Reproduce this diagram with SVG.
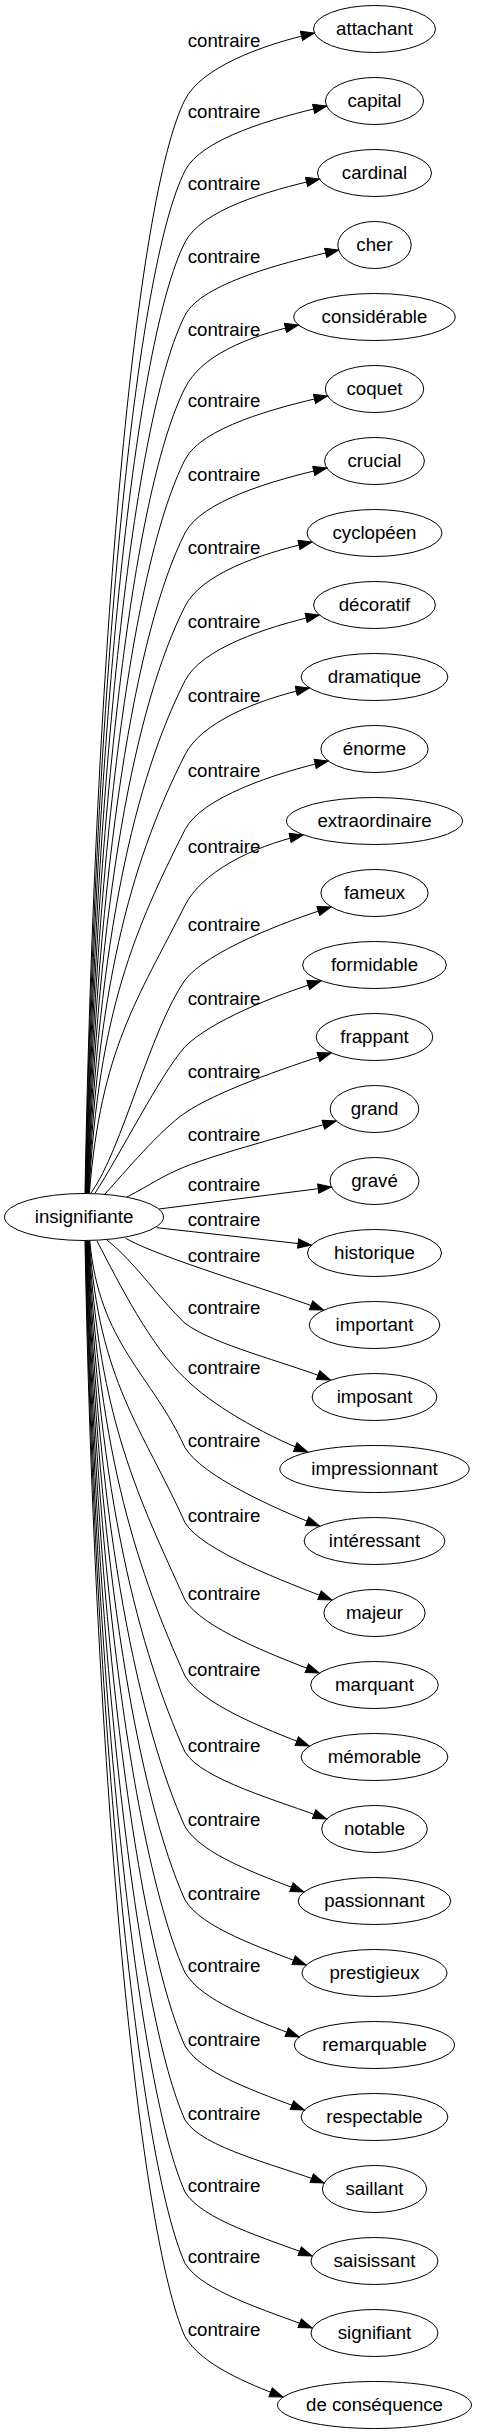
<svg xmlns="http://www.w3.org/2000/svg" width="477" height="2435" viewBox="0 0 477 2435">
<defs>
<style>
.n ellipse{fill:none;stroke:#000;stroke-width:1}
.n text,.lb{font-family:"Liberation Sans",Arial,sans-serif;font-size:18.67px;fill:#000;text-anchor:middle}
.e path{fill:none;stroke:#000;stroke-width:1;marker-end:url(#ah)}
</style>
<marker id="ah" markerUnits="userSpaceOnUse" markerWidth="16" markerHeight="12" refX="14" refY="5.5" orient="auto" viewBox="0 0 16 12"><path d="M0.7,0.8 L14,5.5 L0.7,10.2 z" fill="#000" stroke="#000" stroke-width="1"/></marker>
</defs>
<rect width="477" height="2435" fill="#fff"/>
<g id="connectors" class="e">
<path d="M85,1193 C95,646.4 135.5,197.6 185,99.7 C201.2,67.7 261,45.1 314.4,33"/>
<path d="M85.4,1193 C95.4,681.9 135.5,268.6 185,170.7 C201.2,138.7 273.2,118.1 326.6,106"/>
<path d="M85.8,1193 C95.7,717.7 135.5,340.2 185,242.3 C201.2,210.3 266.1,191.1 319.5,179"/>
<path d="M86.2,1193 C96.1,754.2 135.5,413.2 185,315.3 C201.2,283.3 285.2,262.1 338.6,250"/>
<path d="M86.6,1193 C96.4,790.5 135.5,485.9 185,388 C201.2,356 245,337.1 298.4,325"/>
<path d="M87,1193 C96.8,826.4 135.5,557.6 185,459.7 C201.2,427.7 274,408.1 327.4,396"/>
<path d="M87.4,1193 C97.2,863 135.5,630.9 185,533 C201.2,501 273.3,480.1 326.7,468"/>
<path d="M87.8,1193 C97.5,899.7 135.5,704.2 185,606.3 C201.2,574.3 258.5,554.1 311.9,542"/>
<path d="M88.2,1193 C97.9,936.9 135.5,778.6 185,680.7 C201.2,648.7 265.7,627.1 319.1,615"/>
<path d="M88.6,1193 C98.2,973.9 135.5,852.6 185,754.7 C201.2,722.7 255.8,700.1 309.2,688"/>
<path d="M89,1193 C98.6,1011.4 135.5,927.6 185,829.7 C201.2,797.7 274.7,773.1 328.1,761"/>
<path d="M89.4,1193 C101,1049.2 137.3,999.6 185,905.3 C201.2,873.3 249.6,847.1 303,835"/>
<path d="M91,1193 C122,1150 150,1030 185,980 C207,951.6 283.5,922 331,907"/>
<path d="M95,1193.2 C120,1155 160,1075 185,1046.7 C210.5,1021.2 273.4,996 320.9,981"/>
<path d="M105,1194 C125,1172 160,1130 185,1113 C214.5,1092.5 283.6,1068 331.1,1053"/>
<path d="M127,1197 C150,1185 163.6,1175.2 185,1166.7 C218.5,1153.4 288.1,1135 336.1,1121"/>
<path d="M159,1209 C216,1201.7 274,1194.3 331.4,1187"/>
<path d="M156.7,1227.7 C208,1233.5 260,1239.2 311.3,1245"/>
<path d="M125.7,1238.3 C160,1258 270,1290 323.5,1310"/>
<path d="M107,1240 C135,1262 160,1300 185,1323.3 C213.8,1344.9 283.9,1361.5 330.4,1380"/>
<path d="M97,1241 C120,1285 150,1345 185,1378.3 C210.2,1403.9 261.1,1433.5 307.6,1452"/>
<path d="M89.8,1241 C99.3,1344.4 152.2,1374.9 185,1447.7 C202,1475.7 273,1508 319.5,1526"/>
<path d="M89.4,1241 C99,1381.9 142.4,1428.1 185,1522.7 C202,1550.7 285.4,1582 331.9,1600"/>
<path d="M89,1241 C98.6,1420.5 140,1500 185,1600 C202,1628 272.7,1655 319.2,1673"/>
<path d="M88.6,1241 C98.2,1458.5 140,1576 185,1676 C202,1704 262.7,1728 309.2,1746"/>
<path d="M88.2,1241 C97.9,1496.5 140,1652 185,1752 C202,1780 280,1801 326.5,1819"/>
<path d="M87.8,1241 C97.5,1533.9 140,1726.7 185,1826.7 C202,1854.7 257.3,1874 303.8,1892"/>
<path d="M87.4,1241 C97.2,1570.5 140,1800 185,1900 C202,1928 259.5,1947 306,1965"/>
<path d="M87,1241 C96.8,1606.9 140,1872.7 185,1972.7 C202,2000.7 252.6,2019 299.1,2037"/>
<path d="M86.6,1241 C96.4,1643.5 140,1946 185,2046 C202,2074 257.8,2092 304.3,2110"/>
<path d="M86.2,1241 C96.1,1680.5 140,2020 185,2120 C202,2148 277.6,2165 324.1,2183"/>
<path d="M85.8,1241 C95.7,1716.5 140,2092 185,2192 C202,2220 265.6,2238 312.1,2256"/>
<path d="M85.4,1241 C95.4,1752.2 140,2163.3 185,2263.3 C202,2291.3 265.6,2310 312.1,2328"/>
<path d="M85,1241 C95,1788.9 140,2236.7 185,2336.7 C202,2364.7 246,2383 283,2397"/>
</g>
<g id="labels">
<text class="lb" x="224" y="47.2">contraire</text>
<text class="lb" x="224" y="118.2">contraire</text>
<text class="lb" x="224" y="189.8">contraire</text>
<text class="lb" x="224" y="262.8">contraire</text>
<text class="lb" x="224" y="335.5">contraire</text>
<text class="lb" x="224" y="407.2">contraire</text>
<text class="lb" x="224" y="480.5">contraire</text>
<text class="lb" x="224" y="553.8">contraire</text>
<text class="lb" x="224" y="628.2">contraire</text>
<text class="lb" x="224" y="702.2">contraire</text>
<text class="lb" x="224" y="777.2">contraire</text>
<text class="lb" x="224" y="852.8">contraire</text>
<text class="lb" x="224" y="930.5">contraire</text>
<text class="lb" x="224" y="1004.8">contraire</text>
<text class="lb" x="224" y="1078.2">contraire</text>
<text class="lb" x="224" y="1140.8">contraire</text>
<text class="lb" x="224" y="1191.2">contraire</text>
<text class="lb" x="224" y="1226.2">contraire</text>
<text class="lb" x="224" y="1261.5">contraire</text>
<text class="lb" x="224" y="1313.8">contraire</text>
<text class="lb" x="224" y="1373.8">contraire</text>
<text class="lb" x="224" y="1447.2">contraire</text>
<text class="lb" x="224" y="1522.2">contraire</text>
<text class="lb" x="224" y="1599.5">contraire</text>
<text class="lb" x="224" y="1675.5">contraire</text>
<text class="lb" x="224" y="1751.5">contraire</text>
<text class="lb" x="224" y="1826.2">contraire</text>
<text class="lb" x="224" y="1899.5">contraire</text>
<text class="lb" x="224" y="1972.2">contraire</text>
<text class="lb" x="224" y="2045.5">contraire</text>
<text class="lb" x="224" y="2119.5">contraire</text>
<text class="lb" x="224" y="2191.5">contraire</text>
<text class="lb" x="224" y="2262.8">contraire</text>
<text class="lb" x="224" y="2336.2">contraire</text>
</g>
<g id="n-insignifiante" class="n"><ellipse cx="84" cy="1217" rx="79.5" ry="23.5"/><text x="84" y="1223">insignifiante</text></g>
<g id="n0" class="n"><ellipse cx="374.5" cy="29" rx="61" ry="23.5"/><text x="374.5" y="35">attachant</text></g>
<g id="n1" class="n"><ellipse cx="374.5" cy="101" rx="49" ry="23.5"/><text x="374.5" y="107">capital</text></g>
<g id="n2" class="n"><ellipse cx="374.5" cy="173" rx="57" ry="23.5"/><text x="374.5" y="179">cardinal</text></g>
<g id="n3" class="n"><ellipse cx="374.5" cy="245" rx="36.7" ry="23.5"/><text x="374.5" y="251">cher</text></g>
<g id="n4" class="n"><ellipse cx="374.5" cy="317" rx="80.7" ry="23.5"/><text x="374.5" y="323">considérable</text></g>
<g id="n5" class="n"><ellipse cx="374.5" cy="389" rx="49.2" ry="23.5"/><text x="374.5" y="395">coquet</text></g>
<g id="n6" class="n"><ellipse cx="374.5" cy="461" rx="49.9" ry="23.5"/><text x="374.5" y="467">crucial</text></g>
<g id="n7" class="n"><ellipse cx="374.5" cy="533" rx="67.5" ry="23.5"/><text x="374.5" y="539">cyclopéen</text></g>
<g id="n8" class="n"><ellipse cx="374.5" cy="605" rx="60.9" ry="23.5"/><text x="374.5" y="611">décoratif</text></g>
<g id="n9" class="n"><ellipse cx="374.5" cy="677" rx="73.4" ry="23.5"/><text x="374.5" y="683">dramatique</text></g>
<g id="n10" class="n"><ellipse cx="374.5" cy="749" rx="53.6" ry="23.5"/><text x="374.5" y="755">énorme</text></g>
<g id="n11" class="n"><ellipse cx="374.5" cy="821" rx="88" ry="23.5"/><text x="374.5" y="827">extraordinaire</text></g>
<g id="n12" class="n"><ellipse cx="374.5" cy="893" rx="53.6" ry="23.5"/><text x="374.5" y="899">fameux</text></g>
<g id="n13" class="n"><ellipse cx="374.5" cy="965" rx="71.9" ry="23.5"/><text x="374.5" y="971">formidable</text></g>
<g id="n14" class="n"><ellipse cx="374.5" cy="1037" rx="58.3" ry="23.5"/><text x="374.5" y="1043">frappant</text></g>
<g id="n15" class="n"><ellipse cx="374.5" cy="1109" rx="44.3" ry="23.5"/><text x="374.5" y="1115">grand</text></g>
<g id="n16" class="n"><ellipse cx="374.5" cy="1181" rx="44.5" ry="23.5"/><text x="374.5" y="1187">gravé</text></g>
<g id="n17" class="n"><ellipse cx="374.5" cy="1253" rx="67" ry="23.5"/><text x="374.5" y="1259">historique</text></g>
<g id="n18" class="n"><ellipse cx="374.5" cy="1325" rx="65.3" ry="23.5"/><text x="374.5" y="1331">important</text></g>
<g id="n19" class="n"><ellipse cx="374.5" cy="1397" rx="62.4" ry="23.5"/><text x="374.5" y="1403">imposant</text></g>
<g id="n20" class="n"><ellipse cx="374.5" cy="1469" rx="94.7" ry="23.5"/><text x="374.5" y="1475">impressionnant</text></g>
<g id="n21" class="n"><ellipse cx="374.5" cy="1541" rx="70.4" ry="23.5"/><text x="374.5" y="1547">intéressant</text></g>
<g id="n22" class="n"><ellipse cx="374.5" cy="1613" rx="50.6" ry="23.5"/><text x="374.5" y="1619">majeur</text></g>
<g id="n23" class="n"><ellipse cx="374.5" cy="1685" rx="63.8" ry="23.5"/><text x="374.5" y="1691">marquant</text></g>
<g id="n24" class="n"><ellipse cx="374.5" cy="1757" rx="73.4" ry="23.5"/><text x="374.5" y="1763">mémorable</text></g>
<g id="n25" class="n"><ellipse cx="374.5" cy="1829" rx="52.8" ry="23.5"/><text x="374.5" y="1835">notable</text></g>
<g id="n26" class="n"><ellipse cx="374.5" cy="1901" rx="76.3" ry="23.5"/><text x="374.5" y="1907">passionnant</text></g>
<g id="n27" class="n"><ellipse cx="374.5" cy="1973" rx="72.6" ry="23.5"/><text x="374.5" y="1979">prestigieux</text></g>
<g id="n28" class="n"><ellipse cx="374.5" cy="2045" rx="80" ry="23.5"/><text x="374.5" y="2051">remarquable</text></g>
<g id="n29" class="n"><ellipse cx="374.5" cy="2117" rx="73.4" ry="23.5"/><text x="374.5" y="2123">respectable</text></g>
<g id="n30" class="n"><ellipse cx="374.5" cy="2189" rx="52.1" ry="23.5"/><text x="374.5" y="2195">saillant</text></g>
<g id="n31" class="n"><ellipse cx="374.5" cy="2261" rx="63.5" ry="23.5"/><text x="374.5" y="2267">saisissant</text></g>
<g id="n32" class="n"><ellipse cx="374.5" cy="2333" rx="63.5" ry="23.5"/><text x="374.5" y="2339">signifiant</text></g>
<g id="n33" class="n"><ellipse cx="374.5" cy="2405" rx="97" ry="23.5"/><text x="374.5" y="2411">de conséquence</text></g>
</svg>
